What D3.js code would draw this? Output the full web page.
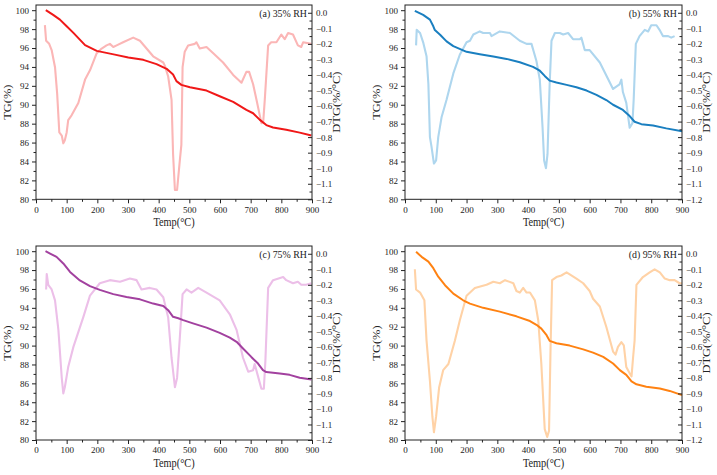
<!DOCTYPE html>
<html><head><meta charset="utf-8">
<script src="https://cdn.jsdelivr.net/npm/d3@7"></script>
<style>body{margin:0;background:#fff}svg{display:block}text{font-family:"Liberation Serif","Times New Roman",serif;fill:#222}</style>
</head><body><svg id="c" width="717" height="475"></svg>
<script>
// ---- data ----
const xTicks = [0,100,200,300,400,500,600,700,800,900];
const tgTicks = [80,82,84,86,88,90,92,94,96,98,100];
const dtgTicks = [0,-0.1,-0.2,-0.3,-0.4,-0.5,-0.6,-0.7,-0.8,-0.9,-1.0,-1.1,-1.2];
const panelLabels = ["(a) 35% RH","(b) 55% RH","(c) 75% RH","(d) 95% RH"];

const tgA_T = [32,56,78,100,122,160,198,257,301,350,393,426,447,458,474,502,556,599,643,686,708,730,751,773,816,860,898];
const tgA   = [100,99.5,99.0,98.3,97.6,96.3,95.7,95.3,95.0,94.75,94.3,93.8,93.2,92.5,92.1,91.85,91.5,90.9,90.3,89.45,89.1,88.4,87.85,87.6,87.35,87.05,86.75];
const dtgA_T = [29,33,43,51,62,69,76,84,89,94,100,105,116,138,160,176,198,214,230,241,252,263,284,317,339,382,415,420,431,442,447,453,460,469,474,478,485,496,518,523,534,556,578,610,643,670,686,695,708,719,735,741,746,757,767,784,800,811,822,838,854,865,871,898];
const dtgA   = [-0.08,-0.18,-0.20,-0.24,-0.35,-0.52,-0.77,-0.79,-0.84,-0.82,-0.77,-0.69,-0.66,-0.58,-0.43,-0.37,-0.26,-0.23,-0.21,-0.20,-0.22,-0.21,-0.19,-0.16,-0.18,-0.28,-0.32,-0.34,-0.41,-0.56,-0.91,-1.14,-1.14,-0.95,-0.85,-0.35,-0.25,-0.21,-0.20,-0.19,-0.23,-0.22,-0.26,-0.32,-0.40,-0.45,-0.38,-0.38,-0.46,-0.56,-0.71,-0.70,-0.56,-0.21,-0.19,-0.19,-0.14,-0.17,-0.13,-0.14,-0.21,-0.22,-0.19,-0.20];

const tgB_T = [32,59,81,92,97,114,135,157,200,243,287,330,373,416,438,454,470,492,525,557,590,622,654,676,708,730,746,768,806,849,900];
const tgB   = [99.93,99.5,99.0,98.3,97.9,97.4,96.7,96.2,95.6,95.35,95.1,94.85,94.5,94.0,93.6,93.05,92.55,92.35,92.1,91.85,91.5,91.05,90.5,90.0,89.45,88.8,88.2,87.95,87.8,87.5,87.2];
const dtgB_T = [36,38,49,59,70,76,81,86,94,101,108,119,135,157,178,200,211,222,243,254,276,281,308,341,373,395,411,427,438,447,452,458,463,470,476,487,503,514,530,546,568,573,584,600,633,676,697,703,708,719,730,739,743,750,762,779,790,800,817,827,838,855,865,876];
const dtgB   = [-0.21,-0.11,-0.13,-0.19,-0.28,-0.46,-0.80,-0.86,-0.97,-0.95,-0.80,-0.67,-0.56,-0.39,-0.27,-0.19,-0.18,-0.14,-0.12,-0.13,-0.13,-0.15,-0.12,-0.13,-0.18,-0.20,-0.20,-0.31,-0.43,-0.74,-0.95,-1.00,-0.91,-0.46,-0.18,-0.13,-0.13,-0.14,-0.13,-0.17,-0.17,-0.16,-0.24,-0.24,-0.32,-0.49,-0.46,-0.43,-0.51,-0.58,-0.74,-0.71,-0.56,-0.20,-0.15,-0.11,-0.12,-0.08,-0.08,-0.11,-0.15,-0.15,-0.16,-0.15];

const tgC_T = [31,46,67,89,111,143,176,208,252,295,339,382,415,431,447,464,480,512,556,599,632,654,675,702,724,740,751,795,827,860,898];
const tgC   = [100,99.75,99.4,98.7,97.8,96.9,96.3,95.9,95.45,95.15,94.9,94.45,94.2,93.75,93.05,92.9,92.7,92.35,91.9,91.35,90.85,90.4,89.7,88.8,88.1,87.4,87.2,87.05,86.9,86.6,86.4];
const dtgC_T = [33,35,40,51,62,73,84,89,94,105,122,154,176,208,241,274,306,328,344,371,393,415,431,442,453,460,469,478,491,507,529,556,599,632,654,675,692,708,713,724,735,743,748,757,773,806,816,838,854,865,881,898];
const dtgC   = [-0.23,-0.13,-0.20,-0.23,-0.30,-0.49,-0.80,-0.90,-0.86,-0.73,-0.60,-0.41,-0.27,-0.19,-0.17,-0.18,-0.16,-0.17,-0.23,-0.22,-0.23,-0.28,-0.41,-0.67,-0.86,-0.80,-0.54,-0.26,-0.23,-0.25,-0.22,-0.25,-0.30,-0.39,-0.49,-0.67,-0.76,-0.75,-0.71,-0.79,-0.87,-0.87,-0.69,-0.22,-0.17,-0.15,-0.17,-0.19,-0.18,-0.20,-0.20,-0.19];

const tgD_T = [36,54,76,92,108,130,157,189,211,254,308,362,406,427,443,460,470,492,535,579,611,644,676,698,719,736,752,784,828,860,900];
const tgD   = [99.93,99.4,98.9,98.2,97.3,96.4,95.5,94.8,94.45,94.0,93.6,93.1,92.6,92.2,91.8,91.1,90.5,90.25,90.0,89.6,89.25,88.8,88.1,87.4,86.9,86.2,85.9,85.65,85.45,85.2,84.75];
const dtgD_T = [32,36,49,63,70,81,89,94,101,111,124,141,162,178,200,227,265,287,308,325,352,362,373,384,395,406,422,433,443,454,462,468,473,478,492,508,525,557,579,600,611,633,654,676,684,692,703,711,719,730,736,741,746,752,773,795,811,828,844,860,876,892,900];
const dtgD   = [-0.10,-0.23,-0.25,-0.30,-0.56,-0.82,-1.05,-1.15,-1.05,-0.86,-0.75,-0.71,-0.56,-0.43,-0.27,-0.22,-0.20,-0.18,-0.19,-0.17,-0.19,-0.24,-0.25,-0.22,-0.25,-0.25,-0.30,-0.43,-0.71,-1.13,-1.18,-1.14,-0.60,-0.17,-0.15,-0.14,-0.12,-0.16,-0.19,-0.24,-0.29,-0.34,-0.47,-0.63,-0.65,-0.60,-0.57,-0.59,-0.73,-0.77,-0.79,-0.67,-0.56,-0.20,-0.15,-0.12,-0.10,-0.12,-0.16,-0.17,-0.17,-0.19,-0.19];

const tgColors  = ["#f01818","#1a7fc0","#a2419f","#ff8212"];
const dtgColors = ["#fbb6b6","#aed6ee","#ecbfe8","#ffd2a6"];

// ---- drawing ----
const svg = d3.select("#c");
const panels = [
  {x0:36, x1:312, y0:5, y1:199.3, tgT:tgA_T, tg:tgA, dT:dtgA_T, d:dtgA},
  {x0:405, x1:682, y0:5, y1:199.3, tgT:tgB_T, tg:tgB, dT:dtgB_T, d:dtgB},
  {x0:36, x1:312, y0:246, y1:440, tgT:tgC_T, tg:tgC, dT:dtgC_T, d:dtgC},
  {x0:405, x1:682, y0:246, y1:440, tgT:tgD_T, tg:tgD, dT:dtgD_T, d:dtgD}
];
const fmtMinus = v => (v===0 ? "0.0" : d3.format(".1f")(v).replace("-","\u2212"));

panels.forEach((p,i)=>{
  const g = svg.append("g");
  const x = d3.scaleLinear().domain([0,900]).range([p.x0,p.x1]);
  const yT = d3.scaleLinear().domain([80,100.55]).range([p.y1,p.y0]);
  const yD = d3.scaleLinear().domain([-1.2,0.05]).range([p.y1,p.y0]);

  g.append("path").datum(p.dT.map((t,k)=>[t,p.d[k]]))
    .attr("fill","none").attr("stroke",dtgColors[i]).attr("stroke-width",2.1)
    .attr("stroke-linejoin","round")
    .attr("d", d3.line().x(d=>x(d[0])).y(d=>yD(d[1])));
  g.append("path").datum(p.tgT.map((t,k)=>[t,p.tg[k]]))
    .attr("fill","none").attr("stroke",tgColors[i]).attr("stroke-width",2)
    .attr("stroke-linejoin","round")
    .attr("d", d3.line().x(d=>x(d[0])).y(d=>yT(d[1])));

  g.append("rect").attr("x",p.x0).attr("y",p.y0).attr("width",p.x1-p.x0).attr("height",p.y1-p.y0)
    .attr("fill","none").attr("stroke","#222").attr("stroke-width",1);

  g.append("g").attr("transform",`translate(0,${p.y1})`)
    .call(d3.axisBottom(x).tickValues(xTicks).tickSize(4).tickPadding(3).tickFormat(d3.format("d")));
  g.append("g").attr("transform",`translate(0,${p.y1})`)
    .call(d3.axisBottom(x).tickValues(d3.range(50,900,100)).tickSize(2.5).tickFormat(""));
  g.append("g").attr("transform",`translate(${p.x0},0)`)
    .call(d3.axisLeft(yT).tickValues(tgTicks).tickSize(4).tickPadding(3).tickFormat(d3.format("d")));
  g.append("g").attr("transform",`translate(${p.x0},0)`)
    .call(d3.axisLeft(yT).tickValues(d3.range(81,100,2)).tickSize(2.5).tickFormat(""));
  g.append("g").attr("transform",`translate(${p.x1},0)`)
    .call(d3.axisRight(yD).tickValues(dtgTicks).tickSize(-4).tickPadding(4).tickFormat(fmtMinus));
  g.append("g").attr("transform",`translate(${p.x1},0)`)
    .call(d3.axisRight(yD).tickValues(d3.range(-1.15,0,0.1)).tickSize(-2.5).tickFormat(""));

  g.selectAll(".domain").remove();
  g.selectAll(".tick line").attr("stroke","#222");
  g.selectAll(".tick text").attr("font-size",9).attr("fill","#222")
    .style("font-family","'Liberation Serif',serif");

  g.append("text").attr("transform",`translate(${(p.x0+p.x1)/2},${p.y1+27}) scale(0.86,1)`)
    .attr("text-anchor","middle").attr("font-size",12).text("Temp(\u00B0C)");
  g.append("text").attr("transform",`translate(${p.x0-25},${(p.y0+p.y1)/2}) rotate(-90) scale(1,0.86)`)
    .attr("text-anchor","middle").attr("font-size",12.5).text("TG(%)");
  g.append("text").attr("transform",`translate(${p.x1+28},${(p.y0+p.y1)/2}) rotate(-90) scale(1,0.86)`)
    .attr("text-anchor","middle").attr("font-size",12.5).text("DTG(%/\u00B0C)");
  g.append("text").attr("transform",`translate(${p.x1-5},${p.y0+12}) scale(0.9,1)`)
    .attr("text-anchor","end").attr("font-size",11).text(panelLabels[i]);
});
</script></body></html>
